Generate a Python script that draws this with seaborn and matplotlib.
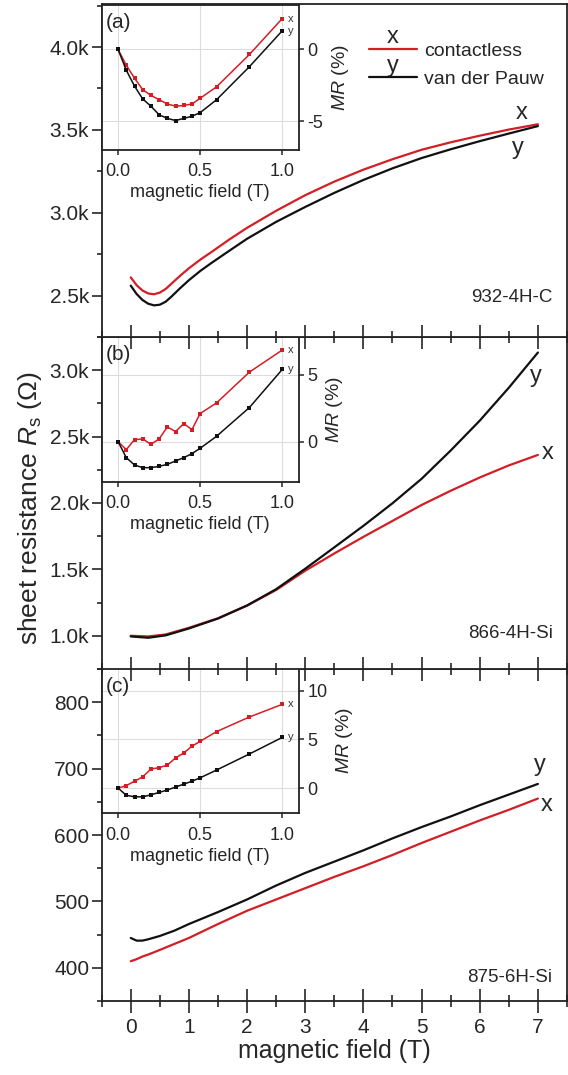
import numpy as np
import pandas as pd
import seaborn as sns
import matplotlib.pyplot as plt
from matplotlib.ticker import MultipleLocator, FuncFormatter, FormatStrFormatter

# main curves: sheet resistance (ohm) vs magnetic field (T)
field_a = [0, 0.1, 0.2, 0.3, 0.4, 0.5, 0.6, 0.7, 0.85, 1.0, 1.2, 1.4, 1.7, 2.0, 2.5, 3.0, 3.5, 4.0, 4.5,
           5.0, 5.5, 6.0, 6.5, 7.0]
rs_a_contactless = [2610, 2563, 2531, 2513, 2508, 2518, 2540, 2572, 2620, 2665, 2718, 2766, 2840, 2909, 3012,
                    3106, 3188, 3260, 3323, 3380, 3425, 3465, 3502, 3534]
rs_a_vdp = [2560, 2510, 2474, 2451, 2441, 2445, 2463, 2494, 2545, 2593, 2650, 2700, 2772, 2843, 2945,
            3035, 3120, 3198, 3268, 3330, 3383, 3432, 3478, 3523]

field_b = [0, 0.3, 0.6, 1.0, 1.5, 2.0, 2.5, 3.0, 3.5, 4.0, 4.5, 5.0, 5.5, 6.0, 6.5, 7.0]
rs_b_contactless = [1000, 995, 1010, 1060, 1132, 1228, 1345, 1490, 1620, 1745, 1865, 1985, 2092, 2192, 2283, 2362]
rs_b_vdp = [995, 985, 1003, 1055, 1130, 1228, 1351, 1505, 1666, 1828, 1998, 2182, 2395, 2620, 2868, 3133]

field_c = [0, 0.1, 0.2, 0.3, 0.5, 0.75, 1.0, 1.5, 2.0, 2.5, 3.0, 3.5, 4.0, 4.5, 5.0, 5.5, 6.0, 6.5, 7.0]
rs_c_contactless = [410, 413, 417, 420, 427, 436, 445, 466, 486, 503, 520, 537, 553, 570, 588, 605, 622, 638, 655]
rs_c_vdp = [445, 441, 441, 443, 448, 456, 466, 484, 503, 524, 543, 560, 577, 595, 612, 628, 645, 661, 677]

# insets: magnetoresistance MR (%) at low field
field_in = [0, 0.05, 0.1, 0.15, 0.2, 0.25, 0.3, 0.35, 0.4, 0.45, 0.5, 0.6, 0.8, 1.0]
mr_a_x = [0, -1.1, -2.0, -2.8, -3.2, -3.5, -3.8, -3.95, -3.9, -3.8, -3.4, -2.6, -0.35, 2.15]
mr_a_y = [0, -1.45, -2.55, -3.45, -3.95, -4.55, -4.8, -4.95, -4.8, -4.65, -4.4, -3.5, -1.2, 1.3]
mr_b_x = [0, -0.6, 0.15, 0.2, -0.2, 0.2, 1.1, 0.75, 1.35, 0.9, 2.1, 2.9, 5.2, 6.85]
mr_b_y = [0, -1.2, -1.75, -1.95, -1.95, -1.85, -1.7, -1.45, -1.2, -0.9, -0.5, 0.4, 2.55, 5.4]
mr_c_x = [0, 0.25, 0.7, 1.15, 1.95, 2.1, 2.35, 3.1, 3.6, 4.3, 4.8, 5.8, 7.3, 8.6]
mr_c_y = [0, -0.75, -0.9, -0.9, -0.7, -0.45, -0.2, 0.1, 0.4, 0.7, 1.05, 1.85, 3.5, 5.2]

samples = ["932-4H-C", "866-4H-Si", "875-6H-Si"]
panel_tags = ["(a)", "(b)", "(c)"]

RED = "#d21f26"
BLACK = "#111111"

sns.set_theme(style="ticks")
plt.rcParams['font.family'] = ['Liberation Sans', 'DejaVu Sans']
plt.rcParams['mathtext.fontset'] = 'custom'
plt.rcParams['mathtext.rm'] = 'Liberation Sans'
plt.rcParams['mathtext.it'] = 'Liberation Sans:italic'
plt.rcParams['axes.unicode_minus'] = False

fig = plt.figure(figsize=(5.68, 10.75), dpi=100)

panels = [
    dict(field=field_a, red=rs_a_contactless, black=rs_a_vdp, ylim=(2250, 4260), major=500, minor=250,
         bottom=0.6865, height=0.3098, in_bottom=0.8605, mr_x=mr_a_x, mr_y=mr_a_y, mr_lim=(-7, 3.1),
         tag_pos=((6.72, 3600), (6.66, 3390)), sample_y=0.12, kfmt=True),
    dict(field=field_b, red=rs_b_contactless, black=rs_b_vdp, ylim=(750, 3250), major=500, minor=250,
         bottom=0.3777, height=0.3088, in_bottom=0.5519, mr_x=mr_b_x, mr_y=mr_b_y, mr_lim=(-3, 7.85),
         tag_pos=((7.16, 2380), (6.96, 2954)), sample_y=0.108, kfmt=True),
    dict(field=field_c, red=rs_c_contactless, black=rs_c_vdp, ylim=(350, 850), major=100, minor=50,
         bottom=0.0688, height=0.3088, in_bottom=0.2434, mr_x=mr_c_x, mr_y=mr_c_y, mr_lim=(-2.6, 12.3),
         tag_pos=((7.15, 645), (7.03, 705)), sample_y=0.07, kfmt=False),
]

z = 10
for i, p in enumerate(panels):
    ax = fig.add_axes([0.179, p['bottom'], 0.8192, p['height']])
    ax.set_zorder(z - 2 * i)
    df = pd.DataFrame({"B": p['field'], "contactless": p['red'], "vdp": p['black']})
    lab_r = "contactless" if i == 0 else None
    lab_b = "van der Pauw" if i == 0 else None
    sns.lineplot(data=df, x="B", y="contactless", color=RED, lw=1.6, ax=ax, label=lab_r, legend=False)
    sns.lineplot(data=df, x="B", y="vdp", color=BLACK, lw=1.6, ax=ax, label=lab_b, legend=False)
    ax.set_xlim(-0.5, 7.5)
    ax.set_ylim(*p['ylim'])
    ax.xaxis.set_major_locator(MultipleLocator(1))
    ax.xaxis.set_minor_locator(MultipleLocator(0.5))
    ax.yaxis.set_major_locator(MultipleLocator(p['major']))
    ax.yaxis.set_minor_locator(MultipleLocator(p['minor']))
    if p['kfmt']:
        ax.yaxis.set_major_formatter(FuncFormatter(lambda v, pos: f"{v/1000:.1f}k"))
    ax.tick_params(axis='x', which='major', direction='inout', length=17, width=1.2, labelsize=15)
    ax.tick_params(axis='x', which='minor', direction='inout', length=8.5, width=1.2)
    ax.tick_params(axis='y', which='major', direction='out', length=7, width=1.2, labelsize=15, pad=2)
    ax.tick_params(axis='y', which='minor', direction='out', length=3.6, width=1.2)
    for s in ax.spines.values():
        s.set_linewidth(1.3)
        s.set_color('#222222')
    ax.set_xlabel("")
    ax.set_ylabel("")
    if i < 2:
        ax.tick_params(axis='x', labelbottom=False)
    else:
        ax.set_xlabel("magnetic field (T)", fontsize=18, labelpad=2)
    (xr, yr), (xb, yb) = p['tag_pos']
    ax.text(xr, yr, "x", fontsize=17, ha='center', va='center')
    ax.text(xb, yb, "y", fontsize=17, ha='center', va='center')
    ax.text(0.969, p['sample_y'], samples[i], transform=ax.transAxes, fontsize=13.5, ha='right', va='center')
    if i == 0:
        ax.legend(loc='upper left', bbox_to_anchor=(0.574, 0.886), frameon=False, fontsize=14,
                  handlelength=2.5, handletextpad=0.35, labelspacing=0.55, borderpad=0, borderaxespad=0)
        ax.text(0.626, 0.900, "x", transform=ax.transAxes, fontsize=17, ha='center', va='center')
        ax.text(0.626, 0.815, "y", transform=ax.transAxes, fontsize=17, ha='center', va='center')

    # inset with MR(%) at low field
    ins = fig.add_axes([0.179, p['in_bottom'], 0.3468, 0.1349])
    ins.set_zorder(z - 2 * i + 1)
    ins.set_facecolor('white')
    dfi = pd.DataFrame({"B": field_in, "x": p['mr_x'], "y": p['mr_y']})
    sns.lineplot(data=dfi, x="B", y="x", color=RED, lw=1.1, marker='s', markersize=3.4,
                 markeredgewidth=0, ax=ins, legend=False)
    sns.lineplot(data=dfi, x="B", y="y", color=BLACK, lw=1.1, marker='s', markersize=3.4,
                 markeredgewidth=0, ax=ins, legend=False)
    ins.set_xlim(-0.1, 1.1)
    ins.set_ylim(*p['mr_lim'])
    ins.xaxis.set_major_locator(MultipleLocator(0.5))
    ins.xaxis.set_major_formatter(FormatStrFormatter('%.1f'))
    ins.yaxis.set_major_locator(MultipleLocator(5))
    ins.yaxis.tick_right()
    ins.yaxis.set_label_position('right')
    ins.grid(True, color='#dcdcdc', lw=0.8)
    ins.tick_params(axis='x', direction='out', length=3.6, width=1.1, labelsize=13, pad=6)
    ins.tick_params(axis='y', direction='out', length=3.6, width=1.1, labelsize=13, pad=2.5)
    for s in ins.spines.values():
        s.set_linewidth(1.3)
        s.set_color('#222222')
    ins.set_xlabel("magnetic field (T)", fontsize=13, labelpad=3)
    ins.set_ylabel("$MR$ (%)", fontsize=14, labelpad=5)
    ins.text(1.035, p['mr_x'][-1], "x", fontsize=8, color='#333333', va='center', ha='left')
    ins.text(1.035, p['mr_y'][-1], "y", fontsize=8, color='#333333', va='center', ha='left')
    ins.text(0.022, 0.876, panel_tags[i], transform=ins.transAxes, fontsize=15, ha='left', va='center')

fig.text(30 / 568, 0.527, r"sheet resistance $R_\mathrm{s}$ (Ω)", rotation=90, fontsize=19,
         ha='center', va='center')

fig.savefig("out.png", dpi=100, facecolor='white')
